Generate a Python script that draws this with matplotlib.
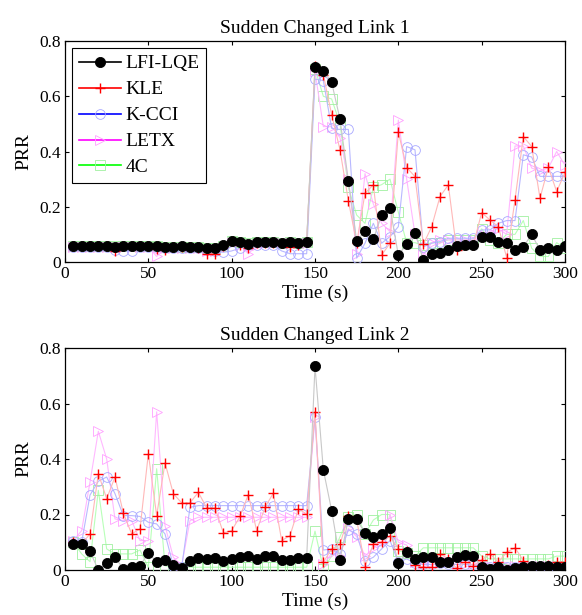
import matplotlib
matplotlib.use("Agg")
import matplotlib.pyplot as plt
from matplotlib.lines import Line2D

plt.rcParams['font.family'] = ['Liberation Serif', 'DejaVu Serif']

time = list(range(5, 301, 5))

# Sudden Changed Link 1
lfi_1 = [0.057, 0.057, 0.057, 0.057, 0.057, 0.055, 0.057, 0.057, 0.057, 0.057, 0.058,
         0.056, 0.055, 0.057, 0.056, 0.055, 0.052, 0.05, 0.06,
         0.077, 0.072, 0.066, 0.072, 0.072, 0.072, 0.07, 0.072, 0.068, 0.072,
         0.705, 0.693, 0.65, 0.517, 0.295, 0.077, 0.112, 0.082, 0.17, 0.197, 0.025,
         0.064, 0.106, 0.007, 0.029, 0.031, 0.043, 0.058, 0.062, 0.062, 0.092, 0.092,
         0.074, 0.068, 0.043, 0.055, 0.1, 0.043, 0.05, 0.043, 0.058]
kle_1 = [0.057, 0.057, 0.057, 0.057, 0.057, 0.04, 0.057, 0.057, 0.057, 0.057, 0.047,
         0.045, 0.055, 0.055, 0.055, 0.05, 0.03, 0.03, 0.058,
         0.077, 0.06, 0.05, 0.07, 0.07, 0.07, 0.07, 0.055, 0.06, 0.072,
         0.711, 0.678, 0.533, 0.406, 0.222, 0.068, 0.249, 0.279, 0.025, 0.068, 0.47,
         0.342, 0.309, 0.064, 0.128, 0.237, 0.279, 0.043, 0.062, 0.062, 0.179, 0.152,
         0.128, 0.016, 0.225, 0.454, 0.418, 0.231, 0.343, 0.255, 0.324]
kcci_1 = [0.055, 0.055, 0.055, 0.055, 0.055, 0.045, 0.04, 0.04, 0.055, 0.055, 0.055,
          0.05, 0.05, 0.05, 0.05, 0.05, 0.045, 0.04, 0.035,
          0.04, 0.05, 0.06, 0.06, 0.06, 0.06, 0.04, 0.03, 0.03, 0.03,
          0.662, 0.657, 0.484, 0.48, 0.48, 0.014, 0.068, 0.14, 0.068, 0.092, 0.128,
          0.418, 0.406, 0.055, 0.068, 0.074, 0.086, 0.086, 0.086, 0.086, 0.116, 0.116,
          0.14, 0.15, 0.15, 0.388, 0.38, 0.31, 0.31, 0.31, 0.31]
letx_1 = [0.055, 0.055, 0.055, 0.055, 0.055, 0.055, 0.055, 0.055, 0.055, 0.055, 0.02,
          0.05, 0.05, 0.05, 0.05, 0.05, 0.04, 0.04, 0.05,
          0.07, 0.06, 0.03, 0.06, 0.07, 0.07, 0.07, 0.07, 0.07, 0.07,
          0.69, 0.49, 0.49, 0.45, 0.3, 0.03, 0.32, 0.21, 0.14, 0.11, 0.514,
          0.3, 0.1, 0.025, 0.07, 0.08, 0.08, 0.08, 0.08, 0.08, 0.1, 0.11,
          0.12, 0.1, 0.42, 0.42, 0.34, 0.33, 0.34, 0.4, 0.35]
c4_1 = [0.058, 0.058, 0.058, 0.058, 0.058, 0.058, 0.058, 0.058, 0.058, 0.058, 0.058,
        0.055, 0.055, 0.055, 0.055, 0.055, 0.05, 0.05, 0.058,
        0.075, 0.072, 0.068, 0.072, 0.072, 0.072, 0.07, 0.072, 0.07, 0.072,
        0.7, 0.6, 0.59, 0.5, 0.27, 0.17, 0.14, 0.27, 0.28, 0.3, 0.18,
        0.07, 0.07, 0.06, 0.07, 0.07, 0.08, 0.08, 0.08, 0.08, 0.12, 0.08,
        0.07, 0.1, 0.1, 0.15, 0.05, 0.02, 0.02, 0.07, 0.05]

# Sudden Changed Link 2
lfi_2 = [0.092, 0.092, 0.067, 0.0, 0.024, 0.046, 0.004, 0.012, 0.016, 0.06,
         0.03, 0.036, 0.018, 0.007, 0.031, 0.042, 0.04, 0.042, 0.034, 0.04,
         0.046, 0.052, 0.04, 0.05, 0.052, 0.036, 0.036, 0.043, 0.043,
         0.735, 0.361, 0.214, 0.037, 0.184, 0.182, 0.133, 0.118, 0.13, 0.15, 0.024,
         0.064, 0.04, 0.048, 0.048, 0.028, 0.03, 0.048, 0.054, 0.052, 0.01, 0.004,
         0.01, 0.0, 0.006, 0.01, 0.016, 0.016, 0.016, 0.012, 0.012]
kle_2 = [0.1, 0.094, 0.13, 0.347, 0.257, 0.335, 0.205, 0.13, 0.148, 0.419,
         0.196, 0.386, 0.275, 0.242, 0.242, 0.28, 0.224, 0.224, 0.134, 0.142,
         0.193, 0.272, 0.142, 0.226, 0.277, 0.106, 0.124, 0.22, 0.202,
         0.57, 0.028, 0.076, 0.092, 0.194, 0.182, 0.012, 0.094, 0.102, 0.122, 0.076,
         0.067, 0.018, 0.01, 0.01, 0.058, 0.04, 0.006, 0.03, 0.016, 0.036, 0.058,
         0.028, 0.064, 0.08, 0.034, 0.01, 0.01, 0.018, 0.028, 0.028]
kcci_2 = [0.106, 0.1, 0.27, 0.32, 0.335, 0.275, 0.196, 0.196, 0.193, 0.172,
          0.166, 0.13, 0.016, 0.01, 0.226, 0.232, 0.232, 0.232, 0.232, 0.232,
          0.232, 0.232, 0.232, 0.232, 0.232, 0.232, 0.232, 0.232, 0.232,
          0.552, 0.072, 0.076, 0.058, 0.145, 0.13, 0.031, 0.046, 0.076, 0.106, 0.028,
          0.04, 0.025, 0.02, 0.02, 0.025, 0.02, 0.02, 0.02, 0.02, 0.01, 0.01,
          0.01, 0.01, 0.01, 0.01, 0.01, 0.01, 0.01, 0.01, 0.01]
letx_2 = [0.106, 0.142, 0.317, 0.5, 0.4, 0.184, 0.178, 0.178, 0.106, 0.106,
          0.57, 0.16, 0.046, 0.016, 0.178, 0.19, 0.19, 0.19, 0.19, 0.19,
          0.19, 0.19, 0.19, 0.19, 0.19, 0.19, 0.19, 0.19, 0.19,
          0.55, 0.02, 0.06, 0.05, 0.15, 0.12, 0.05, 0.08, 0.1, 0.2, 0.1,
          0.09, 0.03, 0.02, 0.03, 0.03, 0.03, 0.02, 0.02, 0.02, 0.02, 0.015,
          0.015, 0.015, 0.015, 0.015, 0.015, 0.015, 0.015, 0.015, 0.015]
c4_2 = [0.1, 0.058, 0.03, 0.287, 0.076, 0.058, 0.058, 0.058, 0.072, 0.01,
        0.365, 0.015, 0.01, 0.01, 0.01, 0.01, 0.01, 0.01, 0.01, 0.01,
        0.01, 0.01, 0.01, 0.01, 0.01, 0.01, 0.01, 0.01, 0.01,
        0.14, 0.005, 0.05, 0.12, 0.19, 0.2, 0.13, 0.18, 0.2, 0.2, 0.07,
        0.06, 0.05, 0.08, 0.08, 0.08, 0.08, 0.08, 0.08, 0.08, 0.05, 0.04,
        0.04, 0.04, 0.04, 0.04, 0.04, 0.04, 0.04, 0.05, 0.05]

names = ["LFI-LQE", "KLE", "K-CCI", "LETX", "4C"]
line_colors = ["black", "red", "blue", "magenta", "#00ff00"]
pale_lines = ["#c8c8c8", "#ffb8b8", "#b8b8ff", "#ffb8ff", "#b8ffb8"]
pale_marks = ["black", "red", "#a8a8ff", "#ffa0ff", "#a0f0a0"]
markers = ["o", "+", "o", ">", "s"]
fills = ["black", "none", "none", "none", "none"]
sizes = [7.3, 7.5, 7, 7, 6.5]
edges = [0.6, 1.0, 0.6, 0.6, 0.6]

fig = plt.figure(figsize=(5.82, 6.15), dpi=100)
ax1 = fig.add_axes([65/582, 1-262/615, 500/582, 221/615])
ax2 = fig.add_axes([65/582, 1-570/615, 500/582, 222/615])

panels = [(ax1, [lfi_1, kle_1, kcci_1, letx_1, c4_1], "Sudden Changed Link 1"),
          (ax2, [lfi_2, kle_2, kcci_2, letx_2, c4_2], "Sudden Changed Link 2")]

# draw back to front so the black dots sit on top
for ax, series, title in panels:
    for i in [4, 3, 2, 1, 0]:
        ax.plot(time, series[i], color=pale_lines[i], lw=0.8, zorder=2 + (5 - i))
        ax.plot(time, series[i], ls="none", marker=markers[i], ms=sizes[i],
                mfc=fills[i], mec=pale_marks[i], mew=edges[i],
                zorder=2 + (5 - i))
    ax.set_xlim(0, 300)
    ax.set_ylim(0, 0.8)
    ax.set_xticks([0, 50, 100, 150, 200, 250, 300])
    ax.set_yticks([0, 0.2, 0.4, 0.6, 0.8])
    ax.set_yticklabels(["0", "0.2", "0.4", "0.6", "0.8"])
    ax.tick_params(direction="in", top=True, right=True, labelsize=12.5,
                   length=3, width=0.8, pad=3)
    ax.set_title(title, fontsize=14, pad=6)
    ax.set_xlabel("Time (s)", fontsize=14, labelpad=2)
    ax.set_ylabel("PRR", fontsize=14, labelpad=5)
    for s in ax.spines.values():
        s.set_linewidth(0.9)

handles = [Line2D([], [], color=line_colors[i], lw=1.2, marker=markers[i],
                  ms=sizes[i], mfc=fills[i], mec=pale_marks[i], mew=edges[i])
           for i in range(5)]
leg = ax1.legend(handles, names, loc="upper left", fontsize=14, frameon=True,
                 fancybox=False, edgecolor="black", framealpha=1,
                 borderaxespad=0.36, handlelength=2.15, handletextpad=0.25,
                 labelspacing=0.43, borderpad=0.35)
leg.get_frame().set_linewidth(0.8)

fig.savefig("out.png", dpi=100)
